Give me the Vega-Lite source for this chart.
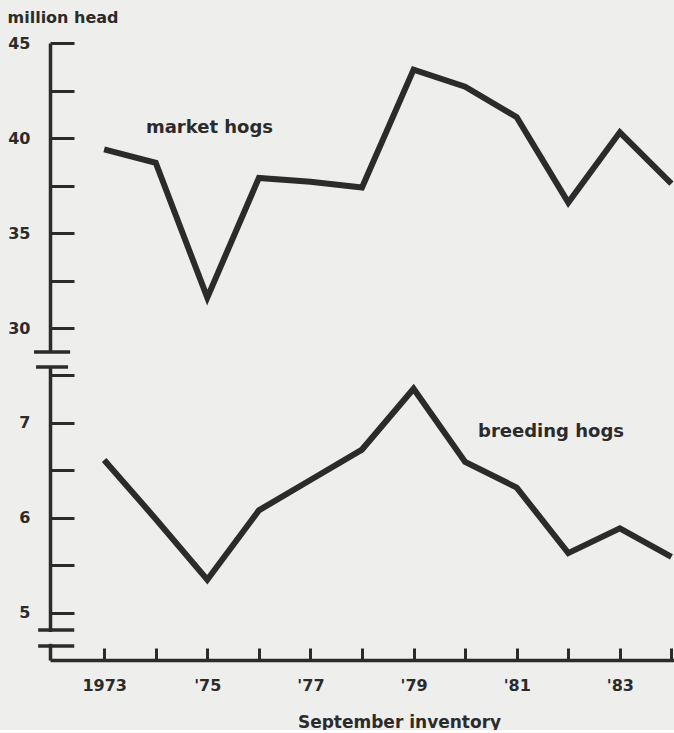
{
  "$schema": "https://vega.github.io/schema/vega-lite/v6.json",
  "background": "#eeeeec",
  "padding": {"left": 7, "top": 9, "right": 0, "bottom": 0},
  "bounds": "flush",
  "spacing": 15,
  "config": {
    "view": {"stroke": null},
    "font": "DejaVu Sans",
    "axis": {
      "grid": false,
      "domainColor": "#2b2b2b",
      "tickColor": "#2b2b2b",
      "labelColor": "#2b2b2b",
      "titleColor": "#2b2b2b",
      "domainWidth": 3.5,
      "tickWidth": 3,
      "labelFontSize": 16,
      "labelFontWeight": "bold",
      "titleFontSize": 16,
      "titleFontWeight": "bold",
      "labelOverlap": false,
      "labelBound": false,
      "labelFlush": false
    }
  },
  "datasets": {
    "hogs": [
      {"year": 1973, "market": 39.4, "breeding": 6.61},
      {"year": 1974, "market": 38.7, "breeding": 5.99},
      {"year": 1975, "market": 31.6, "breeding": 5.35},
      {"year": 1976, "market": 37.9, "breeding": 6.08},
      {"year": 1977, "market": 37.7, "breeding": 6.4},
      {"year": 1978, "market": 37.4, "breeding": 6.72},
      {"year": 1979, "market": 43.6, "breeding": 7.36},
      {"year": 1980, "market": 42.7, "breeding": 6.59},
      {"year": 1981, "market": 41.1, "breeding": 6.32},
      {"year": 1982, "market": 36.6, "breeding": 5.63},
      {"year": 1983, "market": 40.3, "breeding": 5.89},
      {"year": 1984, "market": 37.6, "breeding": 5.59}
    ]
  },
  "vconcat": [
    {
      "width": 624,
      "height": 309,
      "layer": [
        {
          "data": {"name": "hogs"},
          "mark": {"type": "line", "color": "#2b2b2b", "strokeWidth": 6, "strokeJoin": "miter"},
          "encoding": {
            "x": {"field": "year", "type": "quantitative", "scale": {"domain": [1971.95, 1984.05], "nice": false, "zero": false}, "axis": null},
            "y": {
              "field": "market", "type": "quantitative",
              "scale": {"domain": [28.74, 45], "nice": false, "zero": false},
              "axis": {
                "values": [30, 32.5, 35, 37.5, 40, 42.5, 45],
                "labelExpr": "datum.value % 5 == 0 ? toString(datum.value) : ''",
                "tickSize": -24,
                "labelPadding": 44,
                "title": "million head",
                "titleAngle": 0,
                "titleAlign": "left",
                "titleBaseline": "alphabetic",
                "titleX": -43,
                "titleY": -21
              }
            }
          }
        },
        {
          "data": {"values": [{}]},
          "mark": {"type": "text", "text": "market hogs", "align": "left", "baseline": "alphabetic", "fontSize": 18, "fontWeight": "bold", "color": "#2b2b2b"},
          "encoding": {
            "x": {"datum": 1973.81, "type": "quantitative"},
            "y": {"datum": 40.26, "type": "quantitative"}
          }
        },
        {
          "data": {"values": [{}]},
          "mark": {"type": "rule", "color": "#2b2b2b", "strokeWidth": 3.5},
          "encoding": {
            "x": {"datum": 1971.64, "type": "quantitative"},
            "x2": {"datum": 1972.34},
            "y": {"datum": 28.74, "type": "quantitative"}
          }
        }
      ]
    },
    {
      "width": 624,
      "height": 293,
      "layer": [
        {
          "data": {"name": "hogs"},
          "mark": {"type": "line", "color": "#2b2b2b", "strokeWidth": 6, "strokeJoin": "miter"},
          "encoding": {
            "x": {
              "field": "year", "type": "quantitative",
              "scale": {"domain": [1971.95, 1984.05], "nice": false, "zero": false},
              "axis": {
                "values": [1973, 1974, 1975, 1976, 1977, 1978, 1979, 1980, 1981, 1982, 1983, 1984],
                "labelExpr": "datum.value == 1973 ? '1973' : (datum.value % 2 == 1 ? \"'\" + substring(toString(datum.value), 2, 4) : '')",
                "tickSize": -12,
                "labelPadding": 29,
                "title": "September inventory",
                "titleFontSize": 17,
                "titleX": 349,
                "titleY": 67,
                "titleAlign": "center",
                "titleBaseline": "alphabetic"
              }
            },
            "y": {
              "field": "breeding", "type": "quantitative",
              "scale": {"domain": [4.505, 7.589], "nice": false, "zero": false},
              "axis": {
                "values": [5, 5.5, 6, 6.5, 7, 7.5],
                "labelExpr": "datum.value % 1 == 0 ? toString(datum.value) : ''",
                "tickSize": -24,
                "labelPadding": 44,
                "title": null
              }
            }
          }
        },
        {
          "data": {"values": [{}]},
          "mark": {"type": "text", "text": "breeding hogs", "align": "left", "baseline": "alphabetic", "fontSize": 18, "fontWeight": "bold", "color": "#2b2b2b"},
          "encoding": {
            "x": {"datum": 1980.25, "type": "quantitative"},
            "y": {"datum": 6.85, "type": "quantitative"}
          }
        },
        {
          "data": {"values": [{}]},
          "mark": {"type": "rule", "color": "#eeeeec", "strokeWidth": 7},
          "encoding": {
            "x": {"datum": 1971.95, "type": "quantitative"},
            "y": {"datum": 4.8, "type": "quantitative"},
            "y2": {"datum": 4.675}
          }
        },
        {
          "data": {"values": [{"level": 7.589, "from": 1971.68, "to": 1972.3}, {"level": 4.821, "from": 1971.72, "to": 1972.42}, {"level": 4.653, "from": 1971.72, "to": 1972.42}]},
          "mark": {"type": "rule", "color": "#2b2b2b", "strokeWidth": 3.5},
          "encoding": {
            "x": {"field": "from", "type": "quantitative"},
            "x2": {"field": "to"},
            "y": {"field": "level", "type": "quantitative"}
          }
        }
      ]
    }
  ]
}
